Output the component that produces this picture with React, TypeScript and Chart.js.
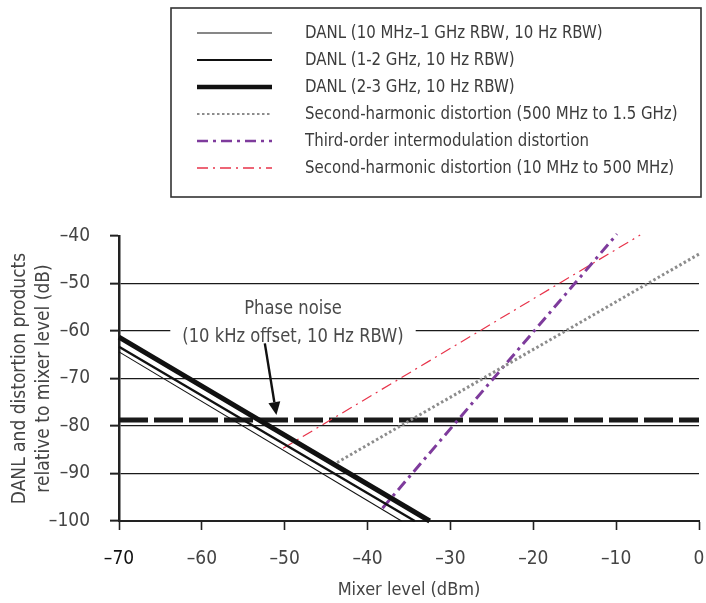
import React, { useEffect, useRef } from 'react';
import { Chart, registerables } from 'chart.js';

Chart.register(...registerables);

// ---- data ----
const xTickValues = [-70, -60, -50, -40, -30, -20, -10, 0];
const yTickValues = [-100, -90, -80, -70, -60, -50, -40];
const xTitle = 'Mixer level (dBm)';
const yTitle = ['DANL and distortion products', 'relative to mixer level (dB)'];

const seriesLabels = [
  'DANL (10 MHz–1 GHz RBW, 10 Hz RBW)',
  'DANL (1-2 GHz, 10 Hz RBW)',
  'DANL (2-3 GHz, 10 Hz RBW)',
  'Second-harmonic distortion (500 MHz to 1.5 GHz)',
  'Third-order intermodulation distortion',
  'Second-harmonic distortion (10 MHz to 500 MHz)',
  'Phase noise',
];

const danlLow = [{ x: -70, y: -64.4 }, { x: -35.9, y: -100 }];
const danlMid = [{ x: -70, y: -63.3 }, { x: -34.3, y: -100 }];
const danlHigh = [{ x: -70, y: -61.3 }, { x: -32.5, y: -100 }];
const shdHigh = [{ x: -44.2, y: -88.2 }, { x: 0, y: -43.8 }];
const toi = [{ x: -38.2, y: -97.3 }, { x: -9.9, y: -39.6 }];
const shdLow = [{ x: -50.2, y: -84.7 }, { x: -7.1, y: -39.8 }];
const phaseNoise = [{ x: -70, y: -78.75 }, { x: 0, y: -78.75 }];

const phaseNoiseText = ['Phase noise', '(10 kHz offset, 10 Hz RBW)'];
const phaseNoiseTextAt = { x: -49.0, y1: -55.4, y2: -61.3 };
const arrowFrom = { x: -52.4, y: -62.6 };
const arrowTo = { x: -51.0, y: -77.7 };

const FONT = "'DejaVu Sans Condensed', 'DejaVu Sans', sans-serif";

const fmt = (v: number) => (v < 0 ? '–' + Math.abs(v) : String(v));

function drawText(ctx: CanvasRenderingContext2D, text: string, x: number, y: number, sx: number, align: CanvasTextAlign) {
  ctx.save();
  ctx.translate(x, y);
  ctx.scale(sx, 1);
  ctx.textAlign = align;
  ctx.textBaseline = 'middle';
  ctx.fillText(text, 0, 0);
  ctx.restore();
}

export default function App() {
  const ref = useRef<HTMLCanvasElement | null>(null);

  useEffect(() => {
    document.body.style.margin = '0';
    const canvas = ref.current;
    if (!canvas) return;

    const legendPlugin = {
      id: 'boxLegend',
      afterDraw(chart: any) {
        const ctx = chart.ctx;
        ctx.save();
        ctx.strokeStyle = '#333';
        ctx.lineWidth = 1.6;
        ctx.setLineDash([]);
        ctx.strokeRect(171, 8, 530, 189);
        const rowY0 = 33;
        const rowGap = 27;
        chart.data.datasets.forEach((ds: any, i: number) => {
          if (ds.inLegend === false) return;
          const y = rowY0 + i * rowGap;
          ctx.beginPath();
          ctx.strokeStyle = ds.borderColor;
          ctx.lineWidth = ds.legendWidth ?? ds.borderWidth;
          ctx.lineCap = 'butt';
          ctx.setLineDash(ds.borderDash || []);
          ctx.moveTo(197, y);
          ctx.lineTo(272, y);
          ctx.stroke();
          ctx.setLineDash([]);
          ctx.fillStyle = '#3c3c3c';
          ctx.font = `18px ${FONT}`;
          drawText(ctx, ds.label, 305, y, 0.925, 'left');
        });
        ctx.restore();
      },
    };

    const noteScale = 0.91;
    const notePlugin = {
      id: 'phaseNote',
      beforeDatasetsDraw(chart: any) {
        const { ctx, scales } = chart;
        const cx = scales.x.getPixelForValue(phaseNoiseTextAt.x);
        const y2 = scales.y.getPixelForValue(phaseNoiseTextAt.y2);
        ctx.save();
        ctx.font = `20px ${FONT}`;
        const w = ctx.measureText(phaseNoiseText[1]).width * noteScale;
        ctx.fillStyle = '#fff';
        ctx.fillRect(cx - w / 2 - 12, y2 - 13, w + 24, 26);
        ctx.restore();
      },
      afterDatasetsDraw(chart: any) {
        const { ctx, scales } = chart;
        const cx = scales.x.getPixelForValue(phaseNoiseTextAt.x);
        const y1 = scales.y.getPixelForValue(phaseNoiseTextAt.y1);
        const y2 = scales.y.getPixelForValue(phaseNoiseTextAt.y2);
        ctx.save();
        ctx.font = `20px ${FONT}`;
        ctx.fillStyle = '#4a4a4a';
        drawText(ctx, phaseNoiseText[0], cx, y1, noteScale, 'center');
        drawText(ctx, phaseNoiseText[1], cx, y2, noteScale, 'center');
        // arrow
        const x0 = scales.x.getPixelForValue(arrowFrom.x);
        const yA = scales.y.getPixelForValue(arrowFrom.y);
        const x1 = scales.x.getPixelForValue(arrowTo.x);
        const yB = scales.y.getPixelForValue(arrowTo.y);
        const ang = Math.atan2(yB - yA, x1 - x0);
        const headLen = 13;
        const headHalf = 6;
        const bx = x1 - headLen * Math.cos(ang);
        const by = yB - headLen * Math.sin(ang);
        ctx.strokeStyle = '#111';
        ctx.lineWidth = 2.4;
        ctx.beginPath();
        ctx.moveTo(x0, yA);
        ctx.lineTo(bx, by);
        ctx.stroke();
        ctx.fillStyle = '#111';
        ctx.beginPath();
        ctx.moveTo(x1, yB);
        ctx.lineTo(bx + headHalf * Math.sin(ang), by - headHalf * Math.cos(ang));
        ctx.lineTo(bx - headHalf * Math.sin(ang), by + headHalf * Math.cos(ang));
        ctx.closePath();
        ctx.fill();
        ctx.restore();
      },
    };

    const common = { pointRadius: 0, pointHoverRadius: 0, fill: false, tension: 0, borderCapStyle: 'butt', clip: false };

    const chart = new Chart(canvas, {
      type: 'line',
      data: {
        datasets: [
          { ...common, label: seriesLabels[0], data: danlLow, borderColor: '#111', borderWidth: 1.1, legendWidth: 1.2 },
          { ...common, label: seriesLabels[1], data: danlMid, borderColor: '#111', borderWidth: 2.4, legendWidth: 2.2 },
          { ...common, label: seriesLabels[2], data: danlHigh, borderColor: '#111', borderWidth: 5, legendWidth: 4.5 },
          { ...common, label: seriesLabels[3], data: shdHigh, borderColor: '#8c8c8c', borderWidth: 3, borderDash: [2.5, 2.5], legendWidth: 2.2 },
          { ...common, label: seriesLabels[4], data: toi, borderColor: '#7e3b9c', borderWidth: 3, borderDash: [11, 5, 3, 5], legendWidth: 2.6 },
          { ...common, label: seriesLabels[5], data: shdLow, borderColor: '#e8334a', borderWidth: 1.2, borderDash: [11, 5, 2, 5], legendWidth: 1.5 },
          { ...common, label: seriesLabels[6], data: phaseNoise, borderColor: '#1a1a1a', borderWidth: 5, borderDash: [29, 6], inLegend: false },
        ] as any,
      },
      options: {
        animation: false,
        responsive: false,
        devicePixelRatio: 1,
        events: [],
        layout: { padding: { top: 236, right: 7, left: 0, bottom: 0 } },
        plugins: { legend: { display: false }, tooltip: { enabled: false } },
        scales: {
          x: {
            type: 'linear',
            min: -70,
            max: 0,
            afterFit: (s: any) => { s.height = 82; s.paddingLeft = 0; s.paddingRight = 0; },
            afterBuildTicks: (s: any) => { s.ticks = xTickValues.map((v) => ({ value: v })); },
            ticks: {
              callback: (v: any) => fmt(Number(v)),
              font: { family: FONT, size: 19 },
              color: (c: any) => (c.tick && c.tick.value === -70 ? '#111' : '#444'),
              padding: 18,
              maxRotation: 0,
            },
            grid: { drawOnChartArea: false, drawTicks: true, tickLength: 9, tickColor: '#222', tickWidth: 1.6 },
            border: { display: true, color: '#222', width: 2 },
            title: { display: true, text: xTitle, font: { family: FONT, size: 18 }, color: '#444', padding: { top: 0, bottom: 2 } },
          },
          y: {
            type: 'linear',
            min: -100,
            max: -40,
            afterFit: (s: any) => { s.width = 119; },
            afterBuildTicks: (s: any) => { s.ticks = yTickValues.map((v) => ({ value: v })); },
            ticks: {
              callback: (v: any) => fmt(Number(v)),
              font: { family: FONT, size: 19 },
              color: '#444',
              padding: 20,
            },
            grid: {
              drawOnChartArea: true,
              drawTicks: true,
              tickLength: 9,
              color: (c: any) => (c.tick && (c.tick.value === -40 || c.tick.value === -100) ? 'rgba(0,0,0,0)' : '#1a1a1a'),
              lineWidth: 1.3,
              tickColor: '#222',
              tickWidth: 2,
            },
            border: { display: true, color: '#222', width: 2.5 },
            title: { display: true, text: yTitle, font: { family: FONT, size: 19, lineHeight: 1.25 }, color: '#444', padding: { top: 8, bottom: 0 } },
          },
        },
      } as any,
      plugins: [notePlugin, legendPlugin],
    });

    return () => chart.destroy();
  }, []);

  return (
    <div style={{ width: 706, height: 603, position: 'relative', background: '#fff' }}>
      <canvas ref={ref} width={706} height={603} style={{ display: 'block' }} />
    </div>
  );
}
